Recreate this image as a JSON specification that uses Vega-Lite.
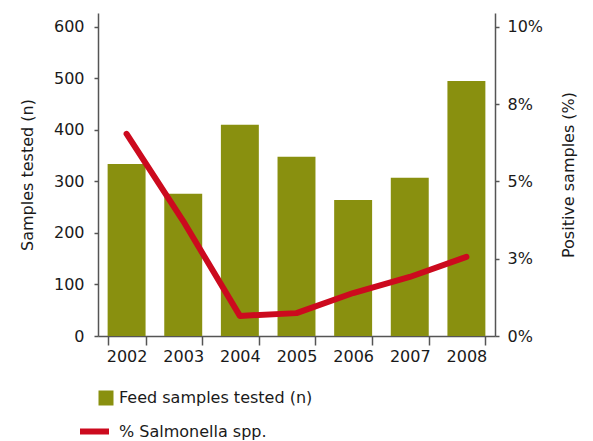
{
  "$schema": "https://vega.github.io/schema/vega-lite/v6.json",
  "autosize": "none",
  "width": 397,
  "height": 323,
  "padding": {"left": 98, "top": 13, "right": 98, "bottom": 105},
  "background": "white",
  "config": {
    "font": "DejaVu Sans",
    "view": {"stroke": null},
    "axis": {
      "labelFont": "DejaVu Sans",
      "titleFont": "DejaVu Sans",
      "labelFontSize": 16,
      "titleFontSize": 16,
      "titleFontWeight": "normal",
      "labelColor": "#1a1a1a",
      "titleColor": "#1a1a1a",
      "domainColor": "#555555",
      "tickColor": "#555555",
      "domainWidth": 1.5,
      "tickWidth": 1.5,
      "grid": false
    },
    "legend": {
      "labelFont": "DejaVu Sans",
      "labelFontSize": 16,
      "labelColor": "#1a1a1a",
      "labelLimit": 400,
      "padding": 0
    }
  },
  "data": {
    "values": [
      {"year": "2002", "samples": 334, "pct": 0.0654},
      {"year": "2003", "samples": 276, "pct": 0.0372},
      {"year": "2004", "samples": 410, "pct": 0.0065},
      {"year": "2005", "samples": 348, "pct": 0.0074},
      {"year": "2006", "samples": 264, "pct": 0.0139},
      {"year": "2007", "samples": 307, "pct": 0.0191},
      {"year": "2008", "samples": 495, "pct": 0.0256}
    ]
  },
  "encoding": {
    "x": {
      "field": "year",
      "type": "ordinal",
      "scale": {"paddingInner": 0.33, "paddingOuter": 0.17},
      "axis": {
        "title": null,
        "labelAngle": 0,
        "tickBand": "extent",
        "tickSize": 9,
        "labelPadding": 3
      }
    }
  },
  "layer": [
    {
      "mark": {"type": "bar"},
      "encoding": {
        "y": {
          "field": "samples",
          "type": "quantitative",
          "scale": {"domain": [0, 627], "nice": false},
          "axis": {
            "title": "Samples tested (n)",
            "values": [0, 100, 200, 300, 400, 500, 600],
            "tickSize": 4,
            "labelPadding": 10,
            "titlePadding": 18
          }
        },
        "fill": {
          "datum": "Feed samples tested (n)",
          "scale": {"range": ["#89900f"]},
          "legend": {
            "title": null,
            "orient": "none",
            "legendX": 0,
            "legendY": 377,
            "symbolType": "square",
            "symbolSize": 225,
            "symbolStrokeWidth": 0,
            "labelOffset": 5
          }
        }
      }
    },
    {
      "mark": {"type": "line", "strokeWidth": 6, "strokeCap": "round", "strokeJoin": "round"},
      "encoding": {
        "y": {
          "field": "pct",
          "type": "quantitative",
          "scale": {"domain": [0, 0.1045], "nice": false},
          "axis": {
            "orient": "right",
            "title": "Positive samples (%)",
            "values": [0, 0.025, 0.05, 0.075, 0.1],
            "format": ".0%",
            "tickSize": 4,
            "labelPadding": 8,
            "titlePadding": 34,
            "titleAngle": 270
          }
        },
        "stroke": {
          "datum": "% Salmonella spp.",
          "scale": {"range": ["#cc0a1e"]},
          "legend": {
            "title": null,
            "orient": "none",
            "legendX": -21,
            "legendY": 401,
            "symbolType": "stroke",
            "symbolSize": 841,
            "symbolStrokeWidth": 6,
            "labelOffset": 7
          }
        }
      }
    }
  ],
  "resolve": {"scale": {"y": "independent"}}
}
